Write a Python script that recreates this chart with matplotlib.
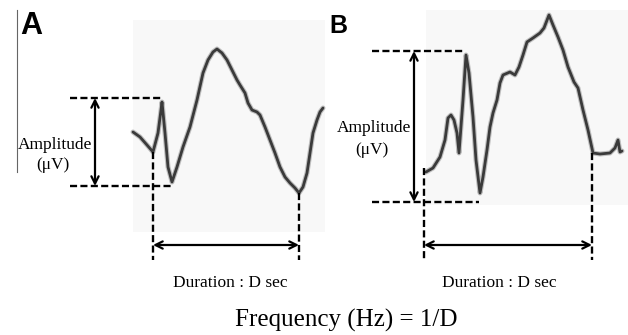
import matplotlib
matplotlib.use("Agg")
import matplotlib.pyplot as plt
from matplotlib.patches import Rectangle

# traced waveforms, in picture pixels (x to the right, y downwards)
wave_a_x = [133, 140, 147, 153, 158, 161, 162, 165, 168, 172, 177, 183, 190, 197, 203, 208,
            213, 217, 222, 227, 232, 237, 240, 245, 248, 252, 257, 260, 265, 270, 275, 280,
            285, 290, 295, 299, 303, 307, 310, 313, 317, 320, 323]
wave_a_y = [132, 137, 145, 152, 133, 110, 102, 133, 167, 182, 167, 147, 127, 100, 73, 60,
            52, 49, 53, 60, 70, 80, 85, 93, 103, 110, 112, 115, 127, 140, 153, 167,
            177, 183, 188, 193, 187, 173, 153, 133, 120, 112, 108]

wave_b_x = [426, 433, 440, 445, 448, 451, 454, 457, 459, 463, 466, 469, 473, 476, 480, 483,
            487, 490, 493, 497, 500, 503, 510, 515, 519, 523, 527, 533, 540, 544, 549, 553,
            558, 563, 568, 574, 578, 583, 588, 593, 600, 610, 615, 618, 620, 622]
wave_b_y = [172, 168, 157, 140, 118, 115, 120, 133, 153, 100, 55, 73, 117, 160, 193, 177,
            150, 127, 113, 100, 83, 75, 72, 75, 67, 55, 42, 38, 33, 28, 15, 25,
            37, 50, 67, 82, 88, 110, 130, 153, 154, 153, 148, 140, 152, 151]

# panel geometry
panel_labels = ["A", "B"]
panel_label_xy = [(20, 26), (329, 26)]
panel_label_size = [22, 18]
boxes = [(133, 20, 192, 212), (426, 10, 202, 195)]          # x, y, w, h
amp_top = [98, 51]
amp_bottom = [186, 202]
amp_dash_from = [70, 372]
amp_top_end = [162, 465]
amp_bottom_end = [173, 479]
amp_arrow_x = [95, 414]
amp_text_x = [55, 374]
amp_text_y = [(145, 165), (128, 150)]
dur_left = [153, 424]
dur_right = [299, 592]
dur_top_left = [152, 168]
dur_top_right = [193, 153]
dur_bottom = 260
dur_arrow_y = 245
dur_text_x = [230, 499]
dur_text_y = 283

serif = "Liberation Serif"

fig = plt.figure(figsize=(6.28, 3.35), dpi=100)
ax = fig.add_axes([0, 0, 1, 1])
ax.set_xlim(0, 628)
ax.set_ylim(335, 0)
ax.axis("off")

# faint scanned backgrounds behind the traces
for (bx, by, bw, bh) in boxes:
    ax.add_patch(Rectangle((bx, by), bw, bh, facecolor="#f8f8f8", edgecolor="none", zorder=0))

# thin stray vertical rule on the far left
ax.plot([17, 17], [10, 172], color="#666666", lw=0.8, zorder=1)

for wx, wy in [(wave_a_x, wave_a_y), (wave_b_x, wave_b_y)]:
    ax.plot(wx, wy, color="#9a9a9a", lw=3.6, alpha=0.6, solid_joinstyle="round",
            solid_capstyle="round", zorder=2)
    ax.plot(wx, wy, color="#3a3a3a", lw=2.0, solid_joinstyle="round",
            solid_capstyle="round", zorder=3)

dash_kw = dict(color="black", lw=1.7, dashes=(3, 1.4), zorder=4)
arrow_kw = dict(arrowstyle="<->", color="black", lw=1.6, shrinkA=0, shrinkB=0,
                mutation_scale=13)

for i in range(2):
    # amplitude guides
    ax.plot([amp_dash_from[i], amp_top_end[i]], [amp_top[i], amp_top[i]], **dash_kw)
    ax.plot([amp_dash_from[i], amp_bottom_end[i]], [amp_bottom[i], amp_bottom[i]], **dash_kw)
    ax.annotate("", xy=(amp_arrow_x[i], amp_top[i]), xytext=(amp_arrow_x[i], amp_bottom[i]),
                arrowprops=arrow_kw, zorder=5)
    ax.text(amp_text_x[i], amp_text_y[i][0], "Amplitude", family=serif, fontsize=12.5,
            ha="center", va="center", zorder=6)
    ax.text(amp_text_x[i] - 2, amp_text_y[i][1], "(μV)", family=serif, fontsize=12.5,
            ha="center", va="center", zorder=6)

    # duration guides
    ax.plot([dur_left[i], dur_left[i]], [dur_top_left[i], dur_bottom], **dash_kw)
    ax.plot([dur_right[i], dur_right[i]], [dur_top_right[i], dur_bottom], **dash_kw)
    ax.annotate("", xy=(dur_left[i], dur_arrow_y), xytext=(dur_right[i], dur_arrow_y),
                arrowprops=arrow_kw, zorder=5)
    ax.text(dur_text_x[i], dur_text_y, "Duration : D sec", family=serif, fontsize=12.5,
            ha="center", va="center", zorder=6)

    ax.text(panel_label_xy[i][0], panel_label_xy[i][1], panel_labels[i],
            family="Liberation Sans", fontweight="bold", fontsize=panel_label_size[i],
            ha="left", va="center", zorder=6)

ax.text(346, 320, "Frequency (Hz) = 1/D", family=serif, fontsize=18,
        ha="center", va="center")

fig.savefig("out.png", dpi=100)
